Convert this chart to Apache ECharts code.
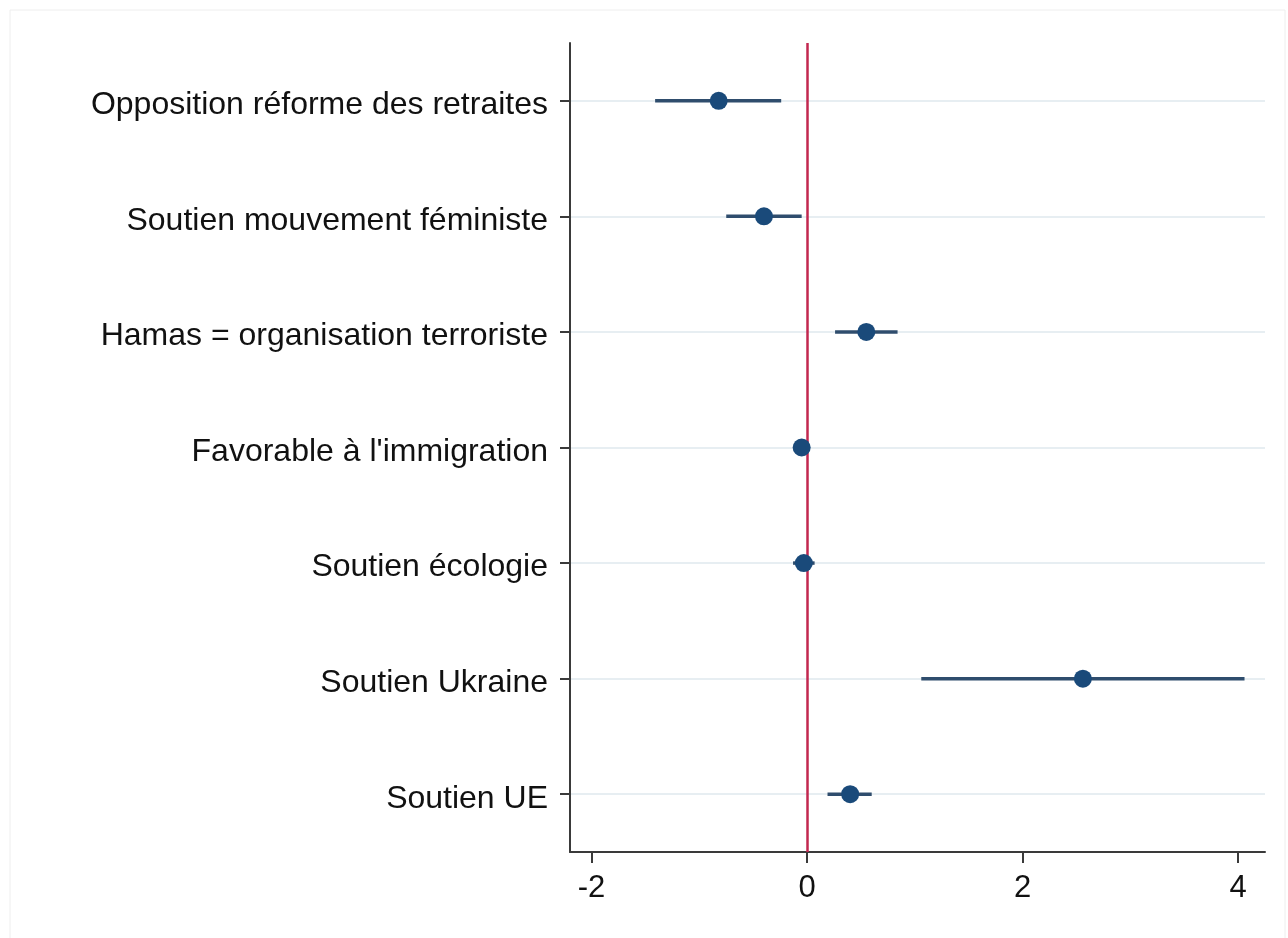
<!DOCTYPE html>
<html>
<head>
<meta charset="utf-8">
<script src="https://cdn.jsdelivr.net/npm/echarts@6/dist/echarts.min.js"></script>
<style>
html,body{margin:0;padding:0;background:#fff;}
#chart{width:1288px;height:938px;}
</style>
</head>
<body>
<div id="chart"></div>
<script>
const categories = [
  "Opposition réforme des retraites",
  "Soutien mouvement féministe",
  "Hamas = organisation terroriste",
  "Favorable à l'immigration",
  "Soutien écologie",
  "Soutien Ukraine",
  "Soutien UE"
];
const estimates = [-0.82, -0.40, 0.55, -0.05, -0.03, 2.56, 0.40];
const lowerCI   = [-1.41, -0.75, 0.26, -0.10, -0.13, 1.06, 0.19];
const upperCI   = [-0.24, -0.05, 0.84, 0.00, 0.07, 4.06, 0.60];
const xTickValues = [-2, 0, 2, 4];

const ciData = categories.map((c, i) => [lowerCI[i], upperCI[i], i]);
const pointData = categories.map((c, i) => [estimates[i], i]);

const chart = echarts.init(document.getElementById('chart'));
const FONT = '"Liberation Sans", Arial, Helvetica, sans-serif';

chart.setOption({
  backgroundColor: '#ffffff',
  animation: false,
  graphic: [{
    type: 'rect',
    shape: {x: 10, y: 10, width: 1275, height: 930},
    style: {fill: 'none', stroke: '#eeeeee', lineWidth: 1},
    silent: true, z: -10
  }],
  grid: {left: 570, right: 23, top: 43, bottom: 86, containLabel: false},
  xAxis: {
    type: 'value',
    min: -2.2,
    max: 4.25,
    axisLine: {show: true, onZero: false, lineStyle: {color: '#3a3a3a', width: 2}},
    axisTick: {show: true, length: 11, customValues: xTickValues, lineStyle: {color: '#3a3a3a', width: 2}},
    axisLabel: {
      customValues: xTickValues,
      margin: 21,
      color: '#111',
      fontSize: 31,
      fontFamily: FONT
    },
    splitLine: {show: false}
  },
  yAxis: {
    type: 'category',
    data: categories,
    inverse: true,
    boundaryGap: true,
    axisLine: {show: true, onZero: false, lineStyle: {color: '#3a3a3a', width: 2}},
    axisTick: {show: true, alignWithLabel: true, length: 10, lineStyle: {color: '#3a3a3a', width: 2}},
    axisLabel: {
      margin: 22,
      color: '#111',
      fontSize: 32,
      fontFamily: FONT,
      formatter: function (v) { return '{t|' + v + '}'; },
      rich: {
        t: {fontSize: 32, fontFamily: FONT, color: '#111', padding: [9, 0, 0, 0]}
      }
    },
    splitLine: {show: true, alignWithLabel: true, lineStyle: {color: '#e7eef2', width: 2}}
  },
  series: [
    {
      type: 'custom',
      name: 'CI',
      data: ciData,
      encode: {x: [0, 1], y: 2},
      renderItem: function (params, api) {
        const cat = api.value(2);
        const p1 = api.coord([api.value(0), cat]);
        const p2 = api.coord([api.value(1), cat]);
        return {
          type: 'line',
          shape: {x1: p1[0], y1: p1[1], x2: p2[0], y2: p2[1]},
          style: {stroke: '#2f4d6d', lineWidth: 3.5}
        };
      },
      z: 3
    },
    {
      type: 'scatter',
      name: 'Estimate',
      data: pointData,
      symbol: 'circle',
      symbolSize: 18,
      itemStyle: {color: '#1a4a7a', opacity: 1},
      z: 4,
      markLine: {
        silent: true,
        symbol: ['none', 'none'],
        label: {show: false},
        lineStyle: {color: '#c2274f', width: 2.5, type: 'solid'},
        data: [{xAxis: 0}],
        z: 2
      }
    }
  ]
});
</script>
</body>
</html>
